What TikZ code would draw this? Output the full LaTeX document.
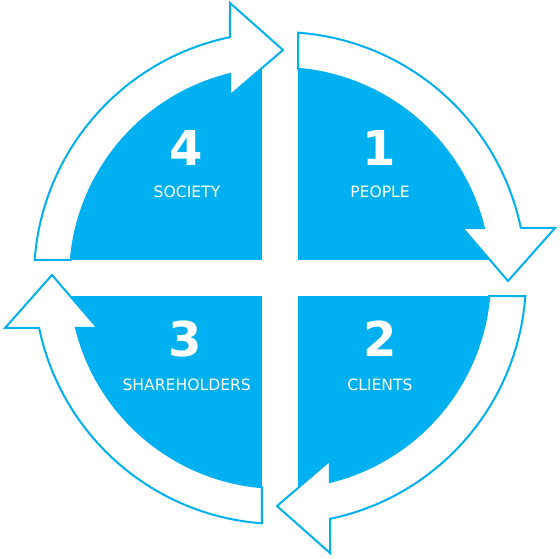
\documentclass[tikz,border=0pt]{standalone}
\usepackage{fontspec}
\setmainfont{DejaVu Sans}
\definecolor{cblue}{HTML}{00B0F0}
\begin{document}
\begin{tikzpicture}[x=1pt,y=1pt,
  arrowshape/.style={fill=white,draw=cblue,line width=2pt,line join=miter},
  numtext/.style={text=white,font=\bfseries\fontsize{48}{48}\selectfont,anchor=base,inner sep=0pt},
  labtext/.style={text=white,font=\fontsize{15.6}{16}\selectfont,anchor=base,inner sep=0pt}]
\useasboundingbox (0,0) rectangle (560,559);
\begin{scope}[shift={(280,281)}]
  \fill[cblue] (0,0) circle[radius=210];
  \fill[white] (-18,-215) rectangle (18,215);
  \fill[white] (-215,-18) rectangle (215,18);
  \foreach \r in {0,-90,-180,-270}{
    \draw[arrowshape,rotate=\r] (85.80:246)
      arc[start angle=85.80, end angle=11.73, radius=246]
      -- (275,50) -- (228,-3) -- (182.5,50) -- (13.77:210)
      arc[start angle=13.77, end angle=85.08, radius=210] -- cycle;
  }
\end{scope}
\node[numtext] (n4) at (186,393.3) {4};
\node[labtext] (l4) at (187,361.5) {SOCIETY};
\node[numtext] (n1) at (379,393.3) {1};
\node[labtext] (l1) at (380,361.5) {PEOPLE};
\node[numtext] (n3) at (185.5,202.3) {3};
\node[labtext] (l3) at (186.7,168) {SHAREHOLDERS};
\node[numtext] (n2) at (380,202.3) {2};
\node[labtext] (l2) at (380,168) {CLIENTS};
\end{tikzpicture}
\end{document}
